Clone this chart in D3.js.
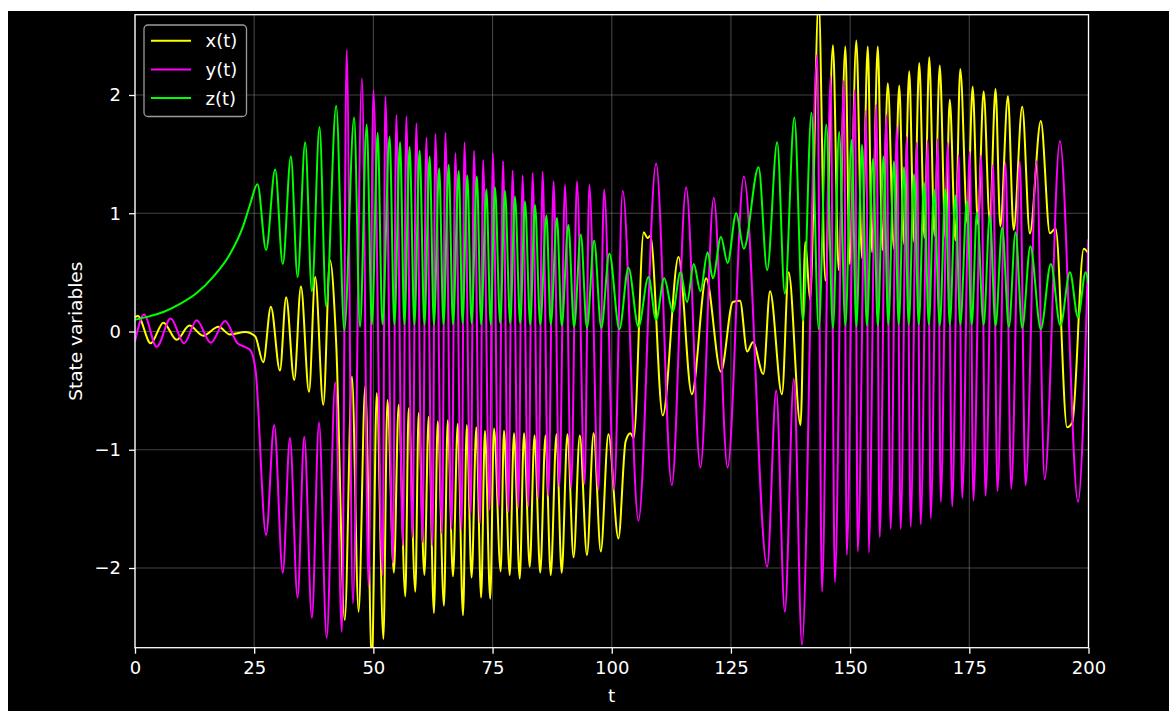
<!DOCTYPE html>
<html>
<head>
<meta charset="utf-8">
<script src="https://cdn.jsdelivr.net/npm/d3@7"></script>
<style>
  html, body { margin: 0; padding: 0; background: #fff; }
  svg { display: block; font-family: "DejaVu Sans", sans-serif; }
</style>
</head>
<body>
<div id="chart"></div>
<script>
// Size of the page and of the plot box
const width = 1169;
const height = 711;
const plot = { left: 135, right: 1088.5, top: 14.7, bottom: 647.7 };

// Data: [t, value] at the turning points of each curve
const xSeries = [
  [0, 0.12], [0.6, 0.13], [3.3, -0.10], [5.95, 0.075], [8.75, -0.07], [11.4, 0.05], [14.3, -0.035],
  [17.5, 0.04], [19.9, -0.025], [23.1, -0.005], [25.2, -0.04], [26.9, -0.26], [28.5, 0.21], [30.4, -0.33],
  [31.7, 0.29], [33.4, -0.41], [34.8, 0.38], [36.5, -0.51], [37.8, 0.46], [39.5, -0.62], [40.9, 0.60],
  [42.2, -0.10], [44.0, -2.44], [45.5, -0.38], [46.9, -2.37], [48.3, -0.46], [49.7, -2.8], [50.7, -0.52],
  [52.1, -2.60], [52.95, -0.58], [54.3, -2.04], [55.3, -0.62], [56.7, -2.24], [57.4, -0.65], [58.8, -2.20],
  [59.5, -0.69], [60.7, -2.06], [61.6, -0.72], [62.7, -2.38], [63.5, -0.76], [64.8, -2.32], [65.6, -0.75],
  [66.7, -2.07], [67.7, -0.78], [68.8, -2.40], [69.6, -0.79], [70.6, -2.08], [71.6, -0.81], [72.6, -2.25],
  [73.4, -0.84], [74.5, -2.26], [75.3, -0.82], [76.7, -2.03], [77.4, -0.84], [78.6, -2.06], [79.5, -0.86],
  [80.7, -2.09], [81.6, -0.86], [82.8, -1.99], [83.8, -0.88], [85.0, -2.04], [86.1, -0.88], [87.2, -2.06],
  [88.4, -0.87], [89.5, -2.04], [90.7, -0.87], [92.0, -1.91], [93.3, -0.88], [94.8, -1.89], [96.2, -0.86],
  [97.7, -1.86], [99.3, -0.87], [101.4, -1.75], [102.9, -0.93], [103.9, -0.86], [104.6, -0.90], [106.7, 0.84],
  [107.5, 0.79], [108.1, 0.81], [110.7, -0.71], [114.0, 0.63], [116.8, -0.53], [119.8, 0.45], [122.9, -0.34],
  [125.4, 0.25], [126.9, 0.26], [128.4, -0.17], [129.6, -0.09], [131.8, -0.36], [133.2, 0.34], [135.7, -0.53],
  [137.1, 0.50], [139.6, -0.79], [140.6, 0.76], [141.6, 0.27], [143.4, 2.8], [144.8, 0.43], [146.4, 2.42],
  [147.6, 0.52], [149.0, 2.41], [149.9, 0.57], [151.3, 2.46], [152.5, 0.62], [153.7, 2.41], [154.6, 0.67],
  [155.8, 2.41], [156.8, 0.69], [157.9, 2.10], [159.2, 0.70], [160.3, 2.08], [161.3, 0.74], [162.4, 2.20],
  [163.4, 0.76], [164.5, 2.27], [165.6, 0.79], [166.6, 2.32], [167.7, 0.81], [168.8, 2.25], [170.0, 0.79],
  [170.9, 1.96], [172.1, 0.77], [173.1, 2.22], [174.6, 0.91], [175.7, 2.07], [176.8, 0.91], [178.0, 2.03],
  [179.3, 0.93], [180.5, 2.05], [181.5, 0.89], [183.1, 1.99], [184.3, 0.86], [186.1, 1.90], [187.7, 0.83],
  [190.0, 1.78], [191.9, 0.83], [193.1, 0.87], [195.5, -0.81], [196.6, -0.77], [199.0, 0.70], [200, 0.66]
];

const ySeries = [
  [0, -0.086], [1.89, 0.144], [4.55, -0.13], [7.49, 0.11], [10.3, -0.10], [12.94, 0.096], [15.9, -0.096],
  [18.9, 0.089], [21.5, -0.10], [23.0, -0.13], [24.2, -0.16], [25.3, -0.33], [27.5, -1.72], [29.2, -0.79],
  [31.0, -2.04], [32.5, -0.90], [34.1, -2.25], [35.5, -0.89], [37.1, -2.42], [38.6, -0.77], [40.2, -2.59],
  [42.0, -0.43], [43.4, -2.54], [44.4, 2.38], [45.7, -2.30], [47.6, 2.14], [49.0, -2.16], [50.0, 2.04],
  [51.95, -2.06], [52.5, 1.99], [54.1, -1.96], [54.8, 1.83], [56.2, -1.81], [56.9, 1.82], [58.2, -1.74],
  [59.0, 1.76], [60.3, -1.78], [61.1, 1.64], [62.4, -1.81], [63.0, 1.67], [64.4, -1.71], [65.1, 1.68],
  [66.4, -1.67], [67.2, 1.51], [68.5, -1.68], [69.1, 1.60], [70.4, -1.55], [71.1, 1.53], [72.4, -1.62],
  [73.0, 1.45], [74.4, -1.51], [75.05, 1.51], [76.3, -1.49], [77.2, 1.44], [78.3, -1.53], [79.2, 1.36],
  [80.4, -1.49], [81.3, 1.32], [82.5, -1.48], [83.4, 1.34], [84.6, -1.41], [85.5, 1.35], [86.7, -1.39],
  [87.8, 1.27], [89.0, -1.31], [90.2, 1.24], [91.5, -1.32], [92.7, 1.27], [94.3, -1.29], [95.3, 1.24],
  [97.2, -1.34], [98.4, 1.20], [100.5, -1.34], [102.3, 1.19], [105.6, -1.60], [109.3, 1.42], [112.6, -1.30],
  [115.6, 1.22], [118.6, -1.15], [121.4, 1.13], [124.3, -1.15], [127.7, 1.31], [132.6, -1.99], [134.5, -0.50],
  [136.3, -2.37], [138.2, -0.40], [139.9, -2.65], [143.1, 2.34], [144.1, -2.20], [145.9, 2.16], [146.8, -2.12],
  [148.7, 2.12], [149.3, -1.89], [151.0, 2.04], [151.6, -1.86], [153.4, 1.87], [153.9, -1.87], [155.5, 1.92],
  [156.2, -1.74], [157.6, 1.83], [158.5, -1.67], [159.8, 1.74], [160.6, -1.67], [161.9, 1.65], [162.7, -1.65],
  [164.0, 1.60], [164.8, -1.63], [166.3, 1.62], [166.9, -1.58], [168.4, 1.63], [169.0, -1.44], [170.5, 1.60],
  [171.4, -1.48], [172.8, 1.49], [173.5, -1.41], [175.1, 1.52], [175.85, -1.43], [177.5, 1.49], [178.4, -1.39],
  [180.0, 1.41], [180.9, -1.35], [182.6, 1.43], [183.8, -1.33], [185.6, 1.44], [186.8, -1.30], [189.1, 1.44],
  [190.8, -1.25], [194.0, 1.61], [197.8, -1.44], [200, 0.78]
];

const zSeries = [
  [0, 0.10], [3.15, 0.13], [5.95, 0.165], [9.44, 0.234], [12.94, 0.326], [16.44, 0.464], [19.9, 0.653],
  [22.7, 0.893], [24.1, 1.07], [25.7, 1.245], [27.5, 0.69], [29.4, 1.37], [31.0, 0.57], [32.7, 1.48],
  [34.1, 0.46], [35.7, 1.60], [37.1, 0.34], [38.7, 1.73], [40.1, 0.21], [42.2, 1.91], [43.9, 0.01],
  [45.96, 1.81], [47.2, 0.04], [48.6, 1.75], [49.7, 0.06], [50.9, 1.68], [51.9, 0.06], [53.4, 1.65],
  [54.4, 0.06], [55.6, 1.60], [56.5, 0.06], [57.6, 1.56], [58.6, 0.06], [59.7, 1.53], [60.7, 0.06],
  [61.8, 1.48], [62.7, 0.06], [63.8, 1.38], [64.7, 0.06], [65.8, 1.41], [66.7, 0.06], [67.9, 1.36],
  [68.7, 0.07], [69.7, 1.32], [70.6, 0.07], [71.7, 1.31], [72.6, 0.06], [73.7, 1.20], [74.6, 0.06],
  [75.5, 1.22], [76.6, 0.07], [77.6, 1.19], [78.7, 0.07], [79.7, 1.14], [80.8, 0.07], [81.8, 1.10],
  [82.9, 0.06], [83.9, 1.07], [85.0, 0.06], [86.3, 0.98], [87.2, 0.06], [88.5, 0.96], [89.5, 0.05],
  [90.9, 0.90], [92.1, 0.04], [93.5, 0.82], [94.8, 0.03], [96.3, 0.77], [97.8, 0.03], [99.5, 0.66],
  [101.6, 0.02], [103.5, 0.54], [105.6, 0.04], [107.7, 0.46], [109.3, 0.10], [111.0, 0.45], [112.8, 0.17],
  [114.4, 0.50], [115.8, 0.25], [117.2, 0.57], [118.6, 0.34], [120.1, 0.67], [121.2, 0.45], [122.9, 0.80],
  [124.3, 0.58], [126.1, 1.00], [127.7, 0.70], [130.8, 1.39], [132.6, 0.52], [134.7, 1.60], [136.3, 0.32],
  [138.3, 1.81], [140.1, 0.09], [141.9, 1.85], [143.4, 0.02], [145.0, 1.75], [146.4, 0.03], [147.7, 1.69],
  [149.0, 0.05], [150.3, 1.62], [151.3, 0.04], [152.5, 1.58], [153.5, 0.05], [154.8, 1.46], [155.8, 0.05],
  [157.0, 1.48], [158.0, 0.06], [159.2, 1.44], [160.2, 0.06], [161.3, 1.39], [162.3, 0.06], [163.4, 1.33],
  [164.4, 0.06], [165.5, 1.26], [166.5, 0.06], [167.6, 1.20], [168.8, 0.05], [170.0, 1.20], [170.9, 0.06],
  [172.1, 1.15], [173.1, 0.06], [174.5, 1.10], [175.5, 0.06], [176.6, 1.01], [178.0, 0.06], [179.3, 0.98],
  [180.5, 0.05], [181.9, 0.88], [183.3, 0.04], [184.7, 0.84], [186.1, 0.03], [187.8, 0.72], [190.0, 0.02],
  [192.1, 0.57], [194.1, 0.05], [196.1, 0.50], [197.8, 0.12], [199.4, 0.50], [200, 0.40]
];

const seriesNames = ["x(t)", "y(t)", "z(t)"];
const seriesColors = ["#ffff00", "#ff00ff", "#00ff00"];
const xTicks = [0, 25, 50, 75, 100, 125, 150, 175, 200];
const yTicks = [-2, -1, 0, 1, 2];

const svg = d3.select("#chart")
  .append("svg")
  .attr("width", width)
  .attr("height", height);

// black figure background (the picture has a thin white strip top and left)
svg.append("rect")
  .attr("x", 8).attr("y", 11)
  .attr("width", width - 8).attr("height", height - 11)
  .attr("fill", "#000");

// Scales
const x = d3.scaleLinear()
  .domain([0, 200])
  .range([plot.left, plot.right]);

const y = d3.scaleLinear()
  .domain([-2.674, 2.679])
  .range([plot.bottom, plot.top]);

// Grid lines
const grid = svg.append("g").attr("stroke", "#b0b0b0").attr("stroke-opacity", 0.38).attr("stroke-width", 1.1);
grid.selectAll(".gx")
  .data(xTicks)
  .enter()
  .append("line")
  .attr("x1", (d) => x(d)).attr("x2", (d) => x(d))
  .attr("y1", plot.top).attr("y2", plot.bottom);
grid.selectAll(".gy")
  .data(yTicks)
  .enter()
  .append("line")
  .attr("x1", plot.left).attr("x2", plot.right)
  .attr("y1", (d) => y(d)).attr("y2", (d) => y(d));

// Clip the curves to the plot box
svg.append("clipPath")
  .attr("id", "plot-clip")
  .append("rect")
  .attr("x", plot.left).attr("y", plot.top)
  .attr("width", plot.right - plot.left)
  .attr("height", plot.bottom - plot.top);

const line = d3.line()
  .x((d) => x(d[0]))
  .y((d) => y(d[1]))
  .curve(d3.curveMonotoneX);

// x, y, z in that order so z ends up on top
[xSeries, ySeries, zSeries].forEach((s, i) => {
  svg.append("path")
    .datum(s)
    .attr("clip-path", "url(#plot-clip)")
    .attr("fill", "none")
    .attr("stroke", seriesColors[i])
    .attr("stroke-width", 2)
    .attr("stroke-linejoin", "round")
    .attr("d", line);
});

// Axes
svg.append("g")
  .attr("transform", `translate(0,${plot.bottom})`)
  .attr("color", "#fff")
  .call(d3.axisBottom(x).tickValues(xTicks).tickSize(6).tickPadding(8).tickFormat(d3.format("d")))
  .call((g) => g.select(".domain").remove())
  .call((g) => g.selectAll(".tick line").attr("stroke-width", 1.3))
  .call((g) => g.selectAll("text").attr("font-size", "18px").attr("font-family", "DejaVu Sans"));

svg.append("g")
  .attr("transform", `translate(${plot.left},0)`)
  .attr("color", "#fff")
  .call(d3.axisLeft(y).tickValues(yTicks).tickSize(6).tickPadding(8).tickFormat(d3.format("d")))
  .call((g) => g.select(".domain").remove())
  .call((g) => g.selectAll(".tick line").attr("stroke-width", 1.3))
  .call((g) => g.selectAll("text").attr("font-size", "18px").attr("font-family", "DejaVu Sans"));

// spines
svg.append("rect")
  .attr("x", plot.left).attr("y", plot.top)
  .attr("width", plot.right - plot.left)
  .attr("height", plot.bottom - plot.top)
  .attr("fill", "none")
  .attr("stroke", "#fff")
  .attr("stroke-width", 1.3);

// Axis labels
svg.append("text")
  .attr("x", (plot.left + plot.right) / 2)
  .attr("y", 702)
  .attr("text-anchor", "middle")
  .attr("fill", "#fff")
  .attr("font-size", "18.5px")
  .text("t");

svg.append("text")
  .attr("transform", `translate(82,${(plot.top + plot.bottom) / 2}) rotate(-90)`)
  .attr("text-anchor", "middle")
  .attr("fill", "#fff")
  .attr("font-size", "18.5px")
  .text("State variables");

// Legend
const legend = svg.append("g");
legend.append("rect")
  .attr("x", 144).attr("y", 25)
  .attr("width", 102.5).attr("height", 91.5)
  .attr("rx", 4)
  .attr("fill", "#000")
  .attr("fill-opacity", 0.8)
  .attr("stroke", "#9a9a9a")
  .attr("stroke-width", 1.3);

seriesNames.forEach((name, i) => {
  const ly = 40.7 + i * 28.7;
  legend.append("line")
    .attr("x1", 151).attr("x2", 191)
    .attr("y1", ly).attr("y2", ly)
    .attr("stroke", seriesColors[i])
    .attr("stroke-width", 2);
  legend.append("text")
    .attr("x", 205.5)
    .attr("y", ly + 6.4)
    .attr("fill", "#fff")
    .attr("font-size", "18px")
    .text(name);
});
</script>
</body>
</html>
